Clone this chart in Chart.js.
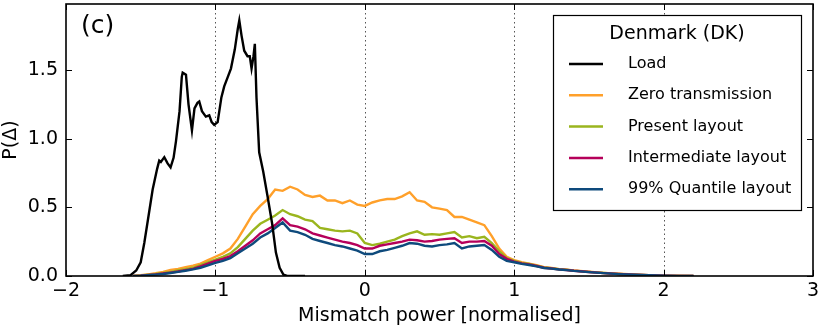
<!DOCTYPE html>
<html>
<head>
<meta charset="utf-8">
<script src="https://cdn.jsdelivr.net/npm/chart.js@4"></script>
<style>
  html, body { margin: 0; padding: 0; background: #fff; }
  #wrap { width: 822px; height: 329px; }
</style>
</head>
<body>
<div id="wrap"><canvas id="chart" width="822" height="329"></canvas></div>
<script>
// axis ticks
const xTicks = [-2, -1, 0, 1, 2, 3];
const yTicks = [0, 0.5, 1.0, 1.5];
const gridLines = [-1, 0, 1, 2];

// Load curve (x, P)
const loadX = [-1.62, -1.57, -1.53, -1.50, -1.476, -1.45, -1.42, -1.39, -1.376, -1.365, -1.342, -1.32, -1.30, -1.28, -1.264,
  -1.24, -1.225, -1.219, -1.197, -1.18, -1.157, -1.14, -1.12, -1.108, -1.09, -1.064, -1.041, -1.025, -1.008, -0.985,
  -0.96, -0.941, -0.92, -0.896, -0.87, -0.85, -0.84, -0.825, -0.807, -0.785, -0.77, -0.758, -0.745, -0.736, -0.725,
  -0.707, -0.68, -0.651, -0.62, -0.595, -0.57, -0.545, -0.52, -0.4];
const loadY = [0, 0.005, 0.04, 0.1, 0.24, 0.42, 0.63, 0.78, 0.84, 0.83, 0.865, 0.82, 0.79, 0.86, 0.98,
  1.2, 1.45, 1.48, 1.465, 1.25, 1.06, 1.22, 1.26, 1.27, 1.2, 1.16, 1.17, 1.12, 1.10, 1.12,
  1.3, 1.38, 1.44, 1.51, 1.65, 1.8, 1.86, 1.75, 1.64, 1.60, 1.6, 1.51, 1.6, 1.69, 1.3,
  0.90, 0.76, 0.58, 0.38, 0.17, 0.06, 0.01, 0, 0];

// shared x grid for the layout curves
const mixX = [-1.55, -1.50, -1.45, -1.40, -1.35, -1.30, -1.25, -1.20, -1.15, -1.10, -1.05, -1.00, -0.95, -0.90, -0.85,
  -0.80, -0.75, -0.70, -0.65, -0.60, -0.55, -0.50, -0.45, -0.40, -0.35, -0.30, -0.25, -0.20, -0.15, -0.10, -0.05,
  0.00, 0.05, 0.10, 0.15, 0.20, 0.25, 0.30, 0.35, 0.40, 0.45, 0.50, 0.55, 0.60, 0.65, 0.70, 0.75, 0.80, 0.85,
  0.90, 0.95, 1.00, 1.05, 1.10, 1.15, 1.20, 1.25, 1.30, 1.35, 1.40, 1.50, 1.60, 1.70, 1.80, 1.90, 2.00, 2.10, 2.20];

const zeroY = [0, 0.005, 0.012, 0.02, 0.03, 0.045, 0.052, 0.065, 0.075, 0.09, 0.115, 0.14, 0.165, 0.2, 0.27,
  0.36, 0.45, 0.51, 0.56, 0.63, 0.62, 0.65, 0.63, 0.59, 0.575, 0.585, 0.55, 0.55, 0.53, 0.55, 0.52,
  0.51, 0.535, 0.55, 0.56, 0.56, 0.58, 0.61, 0.55, 0.54, 0.5, 0.49, 0.48, 0.43, 0.43, 0.41, 0.39, 0.37, 0.29,
  0.2, 0.14, 0.115, 0.1, 0.09, 0.078, 0.065, 0.058, 0.05, 0.046, 0.04, 0.031, 0.023, 0.016, 0.011, 0.006, 0.003, 0.002, 0];

const presentY = [0, 0.004, 0.01, 0.015, 0.022, 0.03, 0.04, 0.05, 0.06, 0.08, 0.1, 0.12, 0.14, 0.165, 0.21,
  0.27, 0.33, 0.38, 0.41, 0.44, 0.48, 0.45, 0.435, 0.41, 0.4, 0.35, 0.34, 0.33, 0.325, 0.33, 0.31,
  0.24, 0.225, 0.235, 0.25, 0.265, 0.29, 0.31, 0.325, 0.3, 0.305, 0.3, 0.31, 0.32, 0.28, 0.29, 0.275, 0.285, 0.24,
  0.18, 0.13, 0.11, 0.095, 0.088, 0.075, 0.062, 0.056, 0.049, 0.045, 0.039, 0.03, 0.022, 0.015, 0.01, 0.006, 0.003, 0.001, 0];

const interY = [0, 0.003, 0.008, 0.012, 0.018, 0.025, 0.033, 0.043, 0.052, 0.07, 0.09, 0.11, 0.125, 0.145, 0.18,
  0.22, 0.26, 0.31, 0.34, 0.37, 0.42, 0.37, 0.36, 0.34, 0.31, 0.295, 0.28, 0.265, 0.25, 0.24, 0.225,
  0.2, 0.2, 0.22, 0.23, 0.24, 0.25, 0.265, 0.26, 0.25, 0.255, 0.265, 0.27, 0.275, 0.24, 0.25, 0.25, 0.255, 0.22,
  0.16, 0.125, 0.105, 0.092, 0.085, 0.073, 0.06, 0.055, 0.048, 0.044, 0.038, 0.029, 0.021, 0.015, 0.01, 0.006, 0.003, 0.001, 0];

const quantY = [0, 0.002, 0.006, 0.01, 0.015, 0.022, 0.03, 0.038, 0.048, 0.06, 0.078, 0.095, 0.11, 0.13, 0.165,
  0.2, 0.235, 0.28, 0.31, 0.35, 0.39, 0.33, 0.32, 0.3, 0.27, 0.255, 0.24, 0.225, 0.215, 0.2, 0.185,
  0.16, 0.16, 0.18, 0.19, 0.205, 0.22, 0.24, 0.235, 0.22, 0.215, 0.225, 0.23, 0.24, 0.2, 0.215, 0.22, 0.225, 0.19,
  0.14, 0.11, 0.1, 0.088, 0.08, 0.07, 0.058, 0.054, 0.047, 0.043, 0.037, 0.028, 0.021, 0.014, 0.009, 0.005, 0.003, 0.001, 0];

const seriesNames = ["Load", "Zero transmission", "Present layout", "Intermediate layout", "99% Quantile layout"];
const seriesColors = ["#000000", "#ffa02a", "#9ab51e", "#b5005a", "#0e4a7c"];

const toPts = (xs, ys) => xs.map((x, i) => ({ x, y: ys[i] }));
const allY = [loadY, zeroY, presentY, interY, quantY];
const allX = [loadX, mixX, mixX, mixX, mixX];

const FONT = "'DejaVu Sans', sans-serif";

// frame, inward ticks, dotted grid, panel letter and legend
const decorations = {
  id: "decorations",
  beforeDatasetsDraw(chart) {
    const { ctx, chartArea: a, scales: { x } } = chart;
    ctx.save();
    ctx.strokeStyle = "#555";
    ctx.lineWidth = 1;
    ctx.setLineDash([1.5, 3]);
    gridLines.forEach(v => {
      const px = Math.round(x.getPixelForValue(v)) + 0.5;
      ctx.beginPath();
      ctx.moveTo(px, a.top);
      ctx.lineTo(px, a.bottom);
      ctx.stroke();
    });
    ctx.restore();
  },
  afterDatasetsDraw(chart) {
    const { ctx, chartArea: a, scales: { x, y } } = chart;
    ctx.save();
    ctx.strokeStyle = "#000";
    ctx.lineWidth = 1;
    ctx.setLineDash([]);
    xTicks.forEach(v => {
      const px = Math.round(x.getPixelForValue(v)) + 0.5;
      ctx.beginPath();
      ctx.moveTo(px, a.bottom); ctx.lineTo(px, a.bottom - 6);
      ctx.moveTo(px, a.top); ctx.lineTo(px, a.top + 6);
      ctx.stroke();
    });
    yTicks.forEach(v => {
      const py = Math.round(y.getPixelForValue(v)) + 0.5;
      ctx.beginPath();
      ctx.moveTo(a.left, py); ctx.lineTo(a.left + 6, py);
      ctx.moveTo(a.right, py); ctx.lineTo(a.right - 6, py);
      ctx.stroke();
    });
    ctx.lineWidth = 1.6;
    ctx.strokeRect(a.left, a.top, a.right - a.left, a.bottom - a.top);

    // panel letter
    ctx.fillStyle = "#000";
    ctx.font = "25px " + FONT;
    ctx.textBaseline = "alphabetic";
    ctx.textAlign = "left";
    ctx.fillText("(c)", 81, 33);

    // legend box
    const bx = 553, by = 15, bw = 248, bh = 195;
    ctx.fillStyle = "#fff";
    ctx.fillRect(bx, by, bw, bh);
    ctx.lineWidth = 1.2;
    ctx.strokeRect(bx + 0.5, by + 0.5, bw, bh);
    ctx.fillStyle = "#000";
    ctx.font = "19px " + FONT;
    ctx.textAlign = "center";
    ctx.textBaseline = "middle";
    ctx.fillText("Denmark (DK)", bx + bw / 2, 34);
    ctx.font = "16px " + FONT;
    ctx.textAlign = "left";
    chart.data.datasets.forEach((ds, i) => {
      const ry = 64 + i * 31.3;
      ctx.strokeStyle = ds.borderColor;
      ctx.lineWidth = 2.5;
      ctx.beginPath();
      ctx.moveTo(569, ry); ctx.lineTo(603, ry);
      ctx.stroke();
      ctx.fillText(ds.label, 628, ry);
    });
    ctx.restore();
  }
};

new Chart(document.getElementById("chart").getContext("2d"), {
  type: "line",
  data: {
    datasets: seriesNames.map((name, i) => ({
      label: name,
      data: toPts(allX[i], allY[i]),
      borderColor: seriesColors[i],
      backgroundColor: seriesColors[i],
      borderWidth: 2.4,
      pointRadius: 0,
      tension: 0,
      fill: false,
      order: i === 0 ? 0 : 5 - i
    }))
  },
  options: {
    responsive: false,
    animation: false,
    events: [],
    layout: { padding: { top: 4, right: 9, left: 0, bottom: 0 } },
    plugins: { legend: { display: false }, tooltip: { enabled: false } },
    scales: {
      x: {
        type: "linear",
        min: -2,
        max: 3,
        afterBuildTicks: s => { s.ticks = xTicks.map(v => ({ value: v })); },
        afterFit: s => { s.height = 53; s.paddingLeft = 0; s.paddingRight = 0; },
        grid: { display: false, drawTicks: false },
        border: { display: false },
        ticks: {
          color: "#000",
          font: { family: FONT, size: 19 },
          padding: 4,
          maxRotation: 0,
          callback: v => (v < 0 ? "\u2212" + Math.abs(v) : String(v))
        },
        title: {
          display: true,
          text: "Mismatch power [normalised]",
          color: "#000",
          font: { family: FONT, size: 19 },
          padding: { top: 0, bottom: 2 }
        }
      },
      y: {
        type: "linear",
        min: 0,
        max: 1.98,
        afterBuildTicks: s => { s.ticks = yTicks.map(v => ({ value: v })); },
        afterFit: s => { s.width = 66; s.paddingTop = 0; s.paddingBottom = 0; },
        grid: { display: false, drawTicks: false },
        border: { display: false },
        ticks: {
          color: "#000",
          font: { family: FONT, size: 19 },
          padding: 8,
          callback: v => v.toFixed(1)
        },
        title: {
          display: true,
          text: "P(\u0394)",
          color: "#000",
          font: { family: FONT, size: 19 },
          padding: { top: 0, bottom: 0 }
        }
      }
    }
  },
  plugins: [decorations]
});
</script>
</body>
</html>
